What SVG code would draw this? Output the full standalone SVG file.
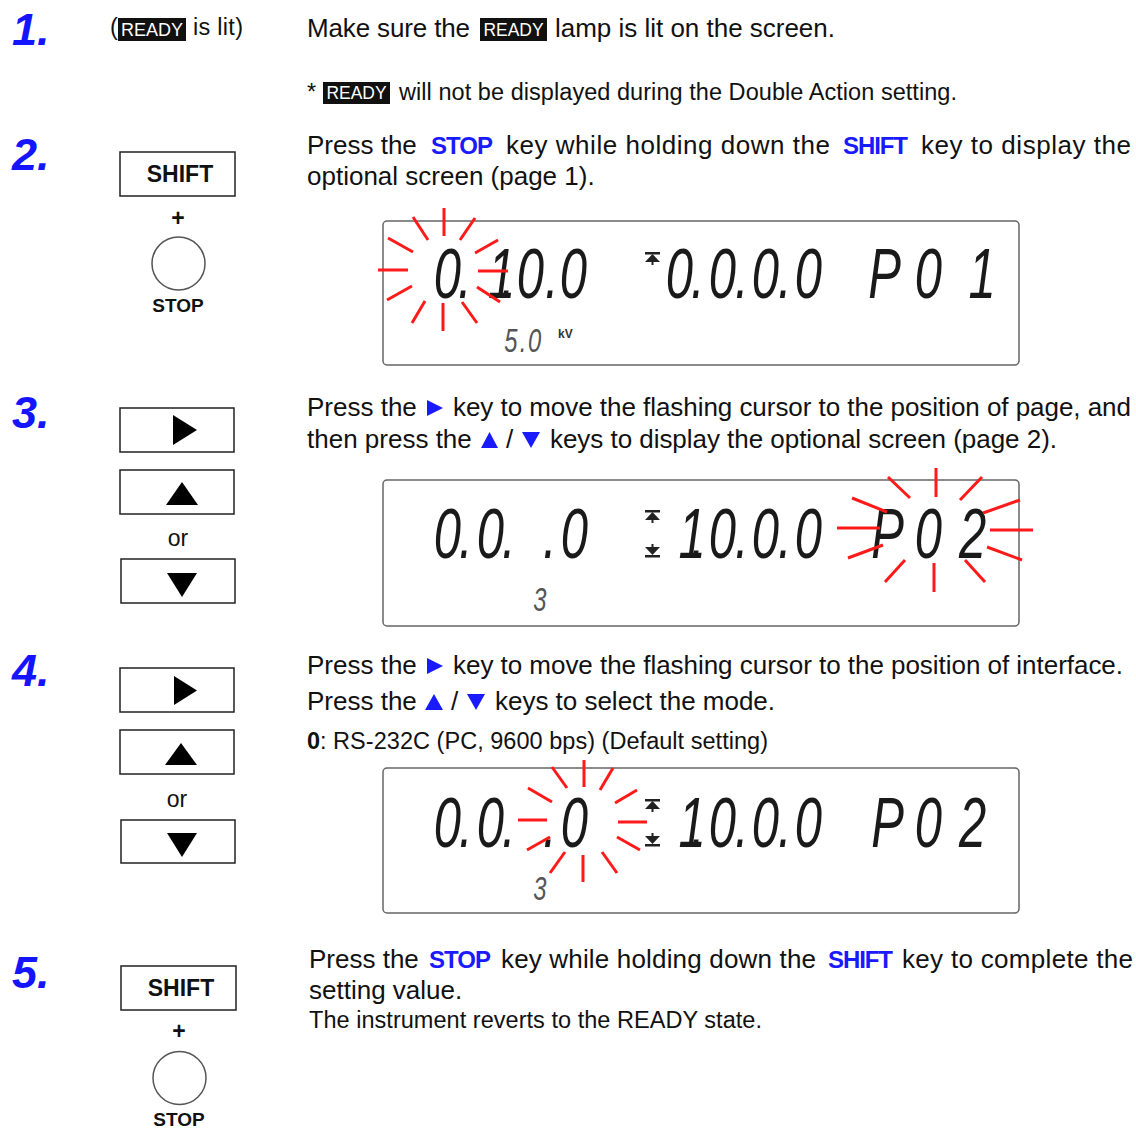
<svg xmlns="http://www.w3.org/2000/svg" width="1136" height="1128" viewBox="0 0 1136 1128">
<style>
.num{font-family:"Liberation Sans",Arial,sans-serif;font-style:italic;font-weight:bold;font-size:45px;fill:#1414ff}
.t{font-family:"Liberation Sans",Arial,sans-serif;font-size:26px;fill:#111}
.s{font-family:"Liberation Sans",Arial,sans-serif;font-size:23.5px;fill:#111}
.kw{font-family:"Liberation Sans",Arial,sans-serif;font-size:24px;font-weight:bold;fill:#1a1aff}
.rd{font-family:"Liberation Sans",Arial,sans-serif;font-size:18px;fill:#fff}
.rdbox{fill:#111}
.key{fill:#fff;stroke:#222;stroke-width:1.5}
.keylbl{font-family:"Liberation Sans",Arial,sans-serif;font-size:23px;font-weight:bold;fill:#111;text-anchor:middle}
.stop{font-family:"Liberation Sans",Arial,sans-serif;font-size:19px;font-weight:bold;fill:#111;text-anchor:middle}
.or{font-family:"Liberation Sans",Arial,sans-serif;font-size:23px;fill:#111;text-anchor:middle}
.circ{fill:#fff;stroke:#555;stroke-width:1.5}
.tri{fill:#000}
.btri{fill:#1a1aff}
.disp{fill:#fff;stroke:#666;stroke-width:1.5}
.lcd{font-family:"Liberation Sans",Arial,sans-serif;font-style:italic;font-size:70px;fill:#1a1a1a}
.lcds{font-family:"Liberation Sans",Arial,sans-serif;font-style:italic;font-size:34px;fill:#555}
.ray{stroke:#ff1a1a;stroke-width:3;fill:none}
.sym{fill:#222}
</style>

<g id="step1">
  <text class="num" x="12" y="45">1.</text>
  <text class="s" x="110" y="35">(</text>
  <rect class="rdbox" x="118" y="18" width="68" height="23"/>
  <text class="rd" x="152" y="36" text-anchor="middle" textLength="62" lengthAdjust="spacingAndGlyphs">READY</text>
  <text class="s" x="193" y="35" textLength="50">is lit)</text>
  <text class="t" x="307" y="37" textLength="163">Make sure the</text>
  <rect class="rdbox" x="480" y="18" width="67" height="23"/>
  <text class="rd" x="513.5" y="36" text-anchor="middle" textLength="60" lengthAdjust="spacingAndGlyphs">READY</text>
  <text class="t" x="555" y="37" textLength="280">lamp is lit on the screen.</text>
  <text class="s" x="307" y="100">*</text>
  <rect class="rdbox" x="323" y="82" width="67" height="22"/>
  <text class="rd" x="356.5" y="99" text-anchor="middle" textLength="60" lengthAdjust="spacingAndGlyphs">READY</text>
  <text class="s" x="399" y="100" textLength="558">will not be displayed during the Double Action setting.</text>
</g>

<g id="step2">
  <text class="num" x="12" y="170">2.</text>
  <g id="step2-keys">
    <rect class="key" x="120" y="152" width="115" height="44"/>
    <text class="keylbl" x="180" y="182">SHIFT</text>
    <text class="keylbl" x="178" y="226" font-size="21">+</text>
    <circle class="circ" cx="178.5" cy="263.5" r="26.5"/>
    <text class="stop" x="178" y="312">STOP</text>
  </g>
  <text class="t" x="307" y="154">Press the</text>
  <text class="kw" x="431" y="154" textLength="62">STOP</text>
  <text class="t" x="506" y="154" textLength="324">key while holding down the</text>
  <text class="kw" x="843" y="154" textLength="65">SHIFT</text>
  <text class="t" x="921" y="154" textLength="210">key to display the</text>
  <text class="t" x="307" y="185">optional screen (page 1).</text>
  <g id="display1">
    <rect class="disp" x="383" y="221" width="636" height="144" rx="4"/>
    <text class="lcd" transform="scale(0.7,1)" x="619.6 654.3 697 715.7 738.1 778.6 799.6" y="298">0.1.0.0</text>
    <rect class="sym" x="645" y="252" width="15" height="2.5"/>
    <polygon class="sym" points="652.5,254 645,262 660,262"/>
    <rect class="sym" x="651.5" y="261" width="2" height="4"/>
    <text class="lcd" transform="scale(0.7,1)" x="950.9 987.1 1012.4 1050 1073.9 1111.4 1135.3" y="298">0.0.0.0</text>
    <text class="lcd" transform="scale(0.7,1)" x="1240.3 1306.7 1383.6" y="298">P01</text>
    <text class="lcds" transform="scale(0.7,1)" x="720.4 742.4 754.4" y="352">5.0</text>
    <text x="558" y="338" font-family="Liberation Sans, Arial, sans-serif" font-size="12" font-weight="bold" fill="#333">kV</text>
    <g id="flash1" class="ray">
      <line x1="444" y1="208" x2="444" y2="236"/>
      <line x1="443" y1="303" x2="443" y2="331"/>
      <line x1="378" y1="270" x2="408" y2="270"/>
      <line x1="478" y1="271" x2="508" y2="271"/>
      <line x1="413" y1="217" x2="428" y2="240"/>
      <line x1="475" y1="218" x2="460" y2="240"/>
      <line x1="388" y1="238" x2="413" y2="252"/>
      <line x1="498" y1="240" x2="475" y2="253"/>
      <line x1="387" y1="300" x2="412" y2="286"/>
      <line x1="477" y1="287" x2="500" y2="302"/>
      <line x1="412" y1="323" x2="425" y2="301"/>
      <line x1="462" y1="302" x2="477" y2="323"/>
    </g>
  </g>
</g>

<g id="step3">
  <text class="num" x="12" y="428">3.</text>
  <g id="step3-keys">
    <rect class="key" x="120" y="408" width="114" height="44"/>
    <polygon class="tri" points="173,415 197,430 173,445"/>
    <rect class="key" x="120" y="470" width="114" height="44"/>
    <polygon class="tri" points="166,505 182,482 198,505"/>
    <text class="or" x="178" y="546">or</text>
    <rect class="key" x="121" y="559" width="114" height="44"/>
    <polygon class="tri" points="167,573 197,573 182,597"/>
  </g>
  <text class="t" x="307" y="416">Press the</text>
  <polygon class="btri" points="427,400 443,408 427,416"/>
  <text class="t" x="453" y="416" textLength="678">key to move the flashing cursor to the position of page, and</text>
  <text class="t" x="307" y="448">then press the</text>
  <polygon class="btri" points="481,448 489.5,432 498,448"/>
  <text class="t" x="506" y="448">/</text>
  <polygon class="btri" points="522,432 540,432 531,448"/>
  <text class="t" x="550" y="448" textLength="507">keys to display the optional screen (page 2).</text>
  <g id="display2">
    <rect class="disp" x="383" y="480" width="636" height="146" rx="4"/>
    <text class="lcd" transform="scale(0.7,1)" x="619.6 655.7 681 717 740 775.7 801" y="558">0.0. .0</text>
    <rect class="sym" x="645" y="510" width="15" height="2.5"/>
    <polygon class="sym" points="652.5,512 645,520 660,520"/>
    <rect class="sym" x="651.5" y="519" width="2" height="4"/>
    <rect class="sym" x="651.5" y="544" width="2" height="4"/>
    <polygon class="sym" points="645,547 660,547 652.5,555"/>
    <rect class="sym" x="645" y="555" width="15" height="2.5"/>
    <text class="lcd" transform="scale(0.7,1)" x="969.3 987.1 1012.4 1050 1073.9 1111.4 1135.3" y="558">1.0.0.0</text>
    <text class="lcd" transform="scale(0.7,1)" x="1244.6 1306.7 1370" y="558">P02</text>
    <text class="lcds" transform="scale(0.7,1)" x="761.9" y="611">3</text>
    <g id="flash2" class="ray">
      <line x1="936" y1="468" x2="936" y2="497"/>
      <line x1="934" y1="563" x2="934" y2="592"/>
      <line x1="837" y1="528" x2="880" y2="528"/>
      <line x1="990" y1="530" x2="1033" y2="530"/>
      <line x1="888" y1="477" x2="910" y2="498"/>
      <line x1="982" y1="477" x2="960" y2="500"/>
      <line x1="852" y1="498" x2="887" y2="512"/>
      <line x1="1020" y1="500" x2="983" y2="513"/>
      <line x1="848" y1="558" x2="883" y2="545"/>
      <line x1="987" y1="547" x2="1022" y2="560"/>
      <line x1="885" y1="582" x2="905" y2="560"/>
      <line x1="965" y1="560" x2="985" y2="582"/>
    </g>
  </g>
</g>

<g id="step4">
  <text class="num" x="12" y="686">4.</text>
  <g id="step4-keys">
    <rect class="key" x="120" y="668" width="114" height="44"/>
    <polygon class="tri" points="174,676 197,690.5 174,705"/>
    <rect class="key" x="120" y="730" width="114" height="44"/>
    <polygon class="tri" points="165,765 181,743 197,765"/>
    <text class="or" x="177" y="807">or</text>
    <rect class="key" x="121" y="820" width="114" height="43"/>
    <polygon class="tri" points="167,833 197,833 182,857"/>
  </g>
  <text class="t" x="307" y="674">Press the</text>
  <polygon class="btri" points="427,658 443,666 427,674"/>
  <text class="t" x="453" y="674" textLength="670">key to move the flashing cursor to the position of interface.</text>
  <text class="t" x="307" y="710">Press the</text>
  <polygon class="btri" points="425,710 434,694 443,710"/>
  <text class="t" x="451" y="710">/</text>
  <polygon class="btri" points="467,694 485,694 476,710"/>
  <text class="t" x="495" y="710" textLength="280">keys to select the mode.</text>
  <text class="s" x="307" y="749" font-weight="bold" fill="#0a6a0a">0</text>
  <text class="s" x="320" y="749" textLength="448">: RS-232C (PC, 9600 bps) (Default setting)</text>
  <g id="display3">
    <rect class="disp" x="383" y="768" width="636" height="145" rx="4"/>
    <text class="lcd" transform="scale(0.7,1)" x="619.6 655.7 681 717 740 775.7 801" y="847">0.0. .0</text>
    <rect class="sym" x="645" y="799" width="15" height="2.5"/>
    <polygon class="sym" points="652.5,801 645,809 660,809"/>
    <rect class="sym" x="651.5" y="808" width="2" height="4"/>
    <rect class="sym" x="651.5" y="833" width="2" height="4"/>
    <polygon class="sym" points="645,836 660,836 652.5,844"/>
    <rect class="sym" x="645" y="844" width="15" height="2.5"/>
    <text class="lcd" transform="scale(0.7,1)" x="969.3 987.1 1012.4 1050 1073.9 1111.4 1135.3" y="847">1.0.0.0</text>
    <text class="lcd" transform="scale(0.7,1)" x="1244.6 1306.7 1370" y="847">P02</text>
    <text class="lcds" transform="scale(0.7,1)" x="761.9" y="900">3</text>
    <g id="flash3" class="ray">
      <line x1="584" y1="760" x2="584" y2="787"/>
      <line x1="583" y1="855" x2="583" y2="882"/>
      <line x1="518" y1="820" x2="547" y2="820"/>
      <line x1="618" y1="822" x2="647" y2="822"/>
      <line x1="552" y1="767" x2="567" y2="788"/>
      <line x1="613" y1="768" x2="600" y2="790"/>
      <line x1="528" y1="788" x2="552" y2="802"/>
      <line x1="637" y1="790" x2="615" y2="803"/>
      <line x1="527" y1="850" x2="550" y2="837"/>
      <line x1="617" y1="837" x2="640" y2="850"/>
      <line x1="550" y1="873" x2="565" y2="852"/>
      <line x1="602" y1="852" x2="617" y2="873"/>
    </g>
  </g>
</g>

<g id="step5">
  <text class="num" x="12" y="988">5.</text>
  <g id="step5-keys">
    <rect class="key" x="121" y="966" width="115" height="44"/>
    <text class="keylbl" x="181" y="996">SHIFT</text>
    <text class="keylbl" x="179" y="1039" font-size="21">+</text>
    <circle class="circ" cx="179.5" cy="1078" r="26.5"/>
    <text class="stop" x="179" y="1126">STOP</text>
  </g>
  <text class="t" x="309" y="968">Press the</text>
  <text class="kw" x="429" y="968" textLength="62">STOP</text>
  <text class="t" x="501" y="968" textLength="315">key while holding down the</text>
  <text class="kw" x="828" y="968" textLength="65">SHIFT</text>
  <text class="t" x="902" y="968" textLength="231">key to complete the</text>
  <text class="t" x="309" y="999">setting value.</text>
  <text class="s" x="309" y="1028" textLength="453">The instrument reverts to the READY state.</text>
</g>
</svg>
